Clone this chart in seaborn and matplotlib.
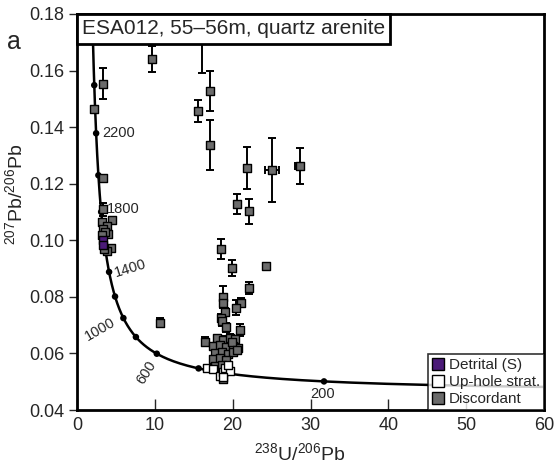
import numpy as np
import pandas as pd
import matplotlib
matplotlib.use("Agg")
import matplotlib.pyplot as plt
from matplotlib.patches import Rectangle
from matplotlib.lines import Line2D
import seaborn as sns

# ---------------- data ----------------
# Discordant analyses: 238U/206Pb, 207Pb/206Pb, y error, x error
disc_x = [3.3, 2.2, 3.4, 3.3, 4.5, 9.7, 16.1, 17.1, 15.5, 17.1, 21.9, 25.1, 28.6,
          20.6, 22.1, 18.5, 19.9, 24.3, 22.1, 21.1, 20.4, 21.0, 10.7, 16.5,
          18.7, 18.8, 19.0, 18.5, 18.6, 19.1,
          18.0, 18.8, 19.7, 20.3, 17.5, 18.4, 19.2, 20.1, 20.7,
          17.7, 18.6, 19.4, 20.1, 17.5, 18.4, 19.2, 17.7, 18.6, 18.7, 19.9, 20.5,
          3.2, 3.8, 3.4, 4.0, 3.6, 3.2, 4.4, 3.8, 3.5]
disc_y = [0.1554, 0.1464, 0.1220, 0.1109, 0.1070, 0.1640, 0.1725, 0.1528, 0.1456, 0.1338,
          0.1257, 0.1249, 0.1262, 0.1129, 0.1102, 0.0969, 0.0902, 0.0910, 0.0831, 0.0780,
          0.0762, 0.0683, 0.0709, 0.0642,
          0.0800, 0.0778, 0.0747, 0.0725, 0.0713, 0.0692,
          0.0654, 0.0648, 0.0655, 0.0650, 0.0625, 0.0630, 0.0622, 0.0628, 0.0619,
          0.0603, 0.0606, 0.0598, 0.0605, 0.0580, 0.0583, 0.0577, 0.0556, 0.0560, 0.0509, 0.0640, 0.0612,
          0.1064, 0.1052, 0.1041, 0.1022, 0.1028, 0.1017, 0.0974, 0.0963, 0.0968]
disc_yerr = [0.0056, 0.0010, 0.0012, 0.0022, 0.0012, 0.0046, 0.0133, 0.0071, 0.0039, 0.0088,
             0.0074, 0.0112, 0.0064, 0.0035, 0.0044, 0.0034, 0.0027, 0.0010, 0.0020, 0.0015,
             0.0026, 0.0022, 0.0015, 0.0015,
             0.0040, 0.0015, 0.0015, 0.0015, 0.0015, 0.0015,
             0.0012, 0.0012, 0.0012, 0.0012, 0.0010, 0.0010, 0.0010, 0.0010, 0.0010,
             0.0010, 0.0010, 0.0010, 0.0010, 0.0010, 0.0010, 0.0010, 0.0010, 0.0010, 0.0010, 0.0012, 0.0010,
             0.0010, 0.0010, 0.0010, 0.0010, 0.0010, 0.0010, 0.0010, 0.0010, 0.0010]
disc_xerr = [0, 0, 0, 0, 0, 0, 0, 0, 0, 0, 0, 0.9, 0.6, 0, 0, 0, 0, 0.3, 0, 0, 0, 0, 0, 0,
             0, 0, 0, 0, 0, 0, 0, 0, 0, 0, 0, 0, 0, 0, 0, 0, 0, 0, 0, 0, 0, 0, 0, 0, 0, 0, 0,
             0, 0, 0, 0, 0, 0, 0, 0, 0]

# Up-hole stratigraphy analyses (open squares)
up_x = [16.7, 17.5, 18.4, 18.8, 19.0, 19.6, 19.4, 18.7]
up_y = [0.0547, 0.0544, 0.0521, 0.0536, 0.0550, 0.0537, 0.0559, 0.0517]

# Detrital (S) analyses (purple)
det_x = [3.3, 3.35]
det_y = [0.1000, 0.0985]

# Concordia: marker ages (Ma), labelled ages
conc_marker_ages = [200, 400, 600, 800, 1000, 1200, 1400, 1600, 1800, 2000, 2200, 2400, 2600]
conc_label_ages = ["200", "600", "1000", "1400", "1800", "2200"]
conc_curve_ages = list(range(100, 2801, 10))
LAMBDA_238 = 1.55125e-10
LAMBDA_235 = 9.8485e-10
U_RATIO = 137.88

legend_labels = ["Detrital (S)", "Up-hole strat.", "Discordant"]
colors = {"Detrital (S)": "#4b1a78", "Up-hole strat.": "#ffffff", "Discordant": "#6b6b6b"}

title_text = "ESA012, 55\u201356m, quartz arenite"
x_ticks = [0, 10, 20, 30, 40, 50, 60]
y_ticks = [0.04, 0.06, 0.08, 0.10, 0.12, 0.14, 0.16, 0.18]


def tw(age_ma):
    t = np.asarray(age_ma, dtype=float) * 1e6
    e8 = np.exp(LAMBDA_238 * t) - 1
    e5 = np.exp(LAMBDA_235 * t) - 1
    return 1 / e8, e5 / e8 / U_RATIO


# ---------------- style ----------------
sns.set_style("ticks")
plt.rcParams["font.family"] = ["Liberation Sans", "DejaVu Sans"]
plt.rcParams["mathtext.fontset"] = "custom"
plt.rcParams["mathtext.rm"] = "Liberation Sans"
plt.rcParams["mathtext.it"] = "Liberation Sans:italic"
plt.rcParams["mathtext.bf"] = "Liberation Sans:bold"

fig = plt.figure(figsize=(5.57, 4.65), dpi=100)
ax = fig.add_axes([77 / 557, 1 - 410 / 465, (544 - 77) / 557, (410 - 14) / 465])

# concordia
cx, cy = tw(conc_curve_ages)
conc_df = pd.DataFrame({"x": cx, "y": cy})
sns.lineplot(data=conc_df, x="x", y="y", sort=False, color="black", lw=1.8, ax=ax, zorder=2)
mx, my = tw(conc_marker_ages)
sns.scatterplot(x=mx, y=my, color="black", s=22, edgecolor="none", ax=ax, zorder=3, legend=False)

# labels on concordia
label_pos = {"200": (31.6, 0.0458, 0), "600": (8.95, 0.0532, 58), "1000": (3.0, 0.0686, 30),
             "1400": (6.9, 0.0900, 17), "1800": (5.9, 0.1110, 0), "2200": (5.3, 0.1380, 0)}
for lab in conc_label_ages:
    x, y, r = label_pos[lab]
    ax.text(x, y, lab, rotation=r, ha="center", va="center", fontsize=10.5, zorder=4)

# error bars
ax.errorbar(disc_x, disc_y, yerr=disc_yerr, xerr=disc_xerr, fmt="none", ecolor="black",
            elinewidth=1.4, capsize=3, capthick=1.4, zorder=4)

pts = pd.DataFrame({
    "x": disc_x + up_x + det_x,
    "y": disc_y + up_y + det_y,
    "group": ["Discordant"] * len(disc_x) + ["Up-hole strat."] * len(up_x) + ["Detrital (S)"] * len(det_x),
})
for g in ["Discordant", "Up-hole strat.", "Detrital (S)"]:
    sns.scatterplot(data=pts[pts.group == g], x="x", y="y", color=colors[g], marker="s", s=36,
                    edgecolor="black", linewidth=1.0, ax=ax, zorder=5, legend=False)

ax.set_xlim(0, 60)
ax.set_ylim(0.04, 0.18)
ax.set_xticks(x_ticks)
ax.set_yticks(y_ticks)
ax.set_yticklabels([f"{v:.2f}" for v in y_ticks])
ax.tick_params(axis="x", direction="in", length=8, width=1.0, labelsize=13, pad=5)
ax.tick_params(axis="y", direction="out", length=6, width=1.0, labelsize=13, pad=3)
for s in ax.spines.values():
    s.set_visible(True)
    s.set_linewidth(2)
    s.set_color("black")

ax.set_xlabel(r"$\mathregular{^{238}U/^{206}Pb}$", fontsize=14)
ax.set_ylabel(r"$\mathregular{^{207}Pb/^{206}Pb}$", fontsize=14)
ax.xaxis.set_label_coords(0.478, -0.082)
ax.yaxis.set_label_coords(-0.108, 0.545)

# title box
ax.add_patch(Rectangle((0, 1 - 30 / 396), (390 - 77) / 467, 30 / 396, transform=ax.transAxes,
                       facecolor="white", edgecolor="black", lw=2, zorder=10, clip_on=False))
ax.text((390 - 77) / 467 / 2, 1 - 15 / 396, title_text, transform=ax.transAxes, ha="center",
        va="center", fontsize=15, zorder=11)

fig.text(0.012, 0.91, "a", fontsize=18, ha="left", va="center")

# legend
handles = [Line2D([], [], marker="s", ls="none", markersize=8, markerfacecolor=colors[l],
                  markeredgecolor="black", markeredgewidth=1.0, label=l) for l in legend_labels]
leg = ax.legend(handles=handles, loc="lower right", borderaxespad=0, fontsize=11,
                frameon=True, fancybox=False, handlelength=0.8, handletextpad=0.3,
                borderpad=0.25, labelspacing=0.2)
leg.get_frame().set_edgecolor("black")
leg.get_frame().set_linewidth(1.2)
leg.set_zorder(12)

fig.savefig("out.png", dpi=100)
